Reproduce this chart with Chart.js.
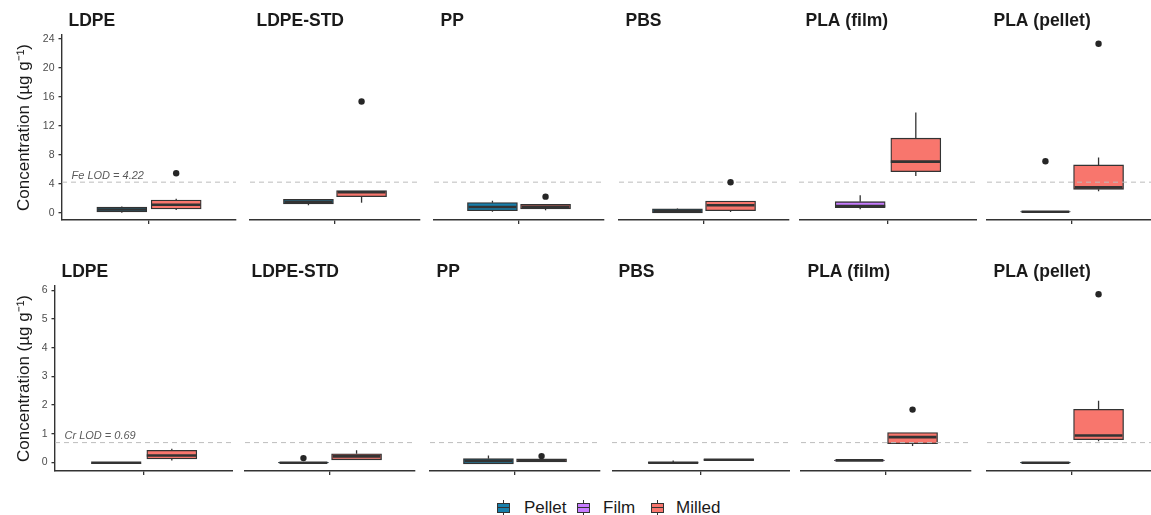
<!DOCTYPE html>
<html lang="en">
<head>
<meta charset="UTF-8">
<title>Fe and Cr concentration by material and form</title>
<script src="https://cdn.jsdelivr.net/npm/chart.js"></script>
<style>
  body { margin: 0; background: #fff; font-family: 'Liberation Sans', Arial, sans-serif; }
  #wrap { position: relative; width: 1151px; height: 515px; overflow: hidden; }
  #wrap canvas { position: absolute; }
  .key { position: absolute; top: 500px; width: 13px; height: 16px; }
  .key i { position: absolute; display: block; }
  .key .wh { left: 6px; top: 0; width: 1.3px; height: 16px; background: #333; }
  .key .bx { left: 0; top: 3px; width: 11px; height: 8px; border: 1px solid #333; }
  .key .md { left: 1px; top: 6.5px; width: 11px; height: 1.6px; background: #333; }
  .lab { position: absolute; top: 498px; font-size: 17px; line-height: 20px; color: #1a1a1a; }
</style>
</head>
<body>
<div id="wrap">
  <div class="key" style="left:497px"><i class="wh"></i><i class="bx" style="background:#177fab"></i><i class="md"></i></div>
  <span class="lab" style="left:524px">Pellet</span>
  <div class="key" style="left:577px"><i class="wh"></i><i class="bx" style="background:#c77cff"></i><i class="md"></i></div>
  <span class="lab" style="left:603px">Film</span>
  <div class="key" style="left:651px"><i class="wh"></i><i class="bx" style="background:#f8766d"></i><i class="md"></i></div>
  <span class="lab" style="left:676px">Milled</span>
</div>

<script>
const materials = ['LDPE', 'LDPE-STD', 'PP', 'PBS', 'PLA (film)', 'PLA (pellet)'];
const firstForm = ['Pellet', 'Pellet', 'Pellet', 'Pellet', 'Film', 'Pellet'];
const formColors = { Pellet: '#177fab', Film: '#c77cff', Milled: '#f8766d' };

// Fe, ug/g: [lower whisker, Q1, median, Q3, upper whisker]
const feFirst = [
    [0.00, 0.12, 0.45, 0.78, 0.85],
    [1.02, 1.20, 1.50, 1.86, 1.88],
    [0.14, 0.28, 0.79, 1.39, 1.66],
    [-0.04, -0.02, 0.25, 0.55, 0.62],
    [0.47, 0.69, 0.93, 1.52, 2.41],
    [0.08, 0.10, 0.13, 0.16, 0.18]
];
const feMilled = [
    [0.37, 0.51, 1.10, 1.76, 1.94],
    [1.38, 2.22, 2.82, 3.05, 3.05],
    [0.33, 0.51, 0.83, 1.16, 1.16],
    [0.10, 0.28, 1.02, 1.62, 1.62],
    [5.08, 5.68, 7.06, 10.30, 13.85],
    [2.96, 3.23, 3.50, 6.60, 7.62]
];
const feOutFirst = [[], [], [], [], [], [7.1]];
const feOutMilled = [[5.45], [15.37], [2.22], [4.2], [], [23.36]];
const feTicks = [0, 4, 8, 12, 16, 20, 24];
const feLod = 4.22;

// Cr, ug/g
const crFirst = [
    [-0.03, -0.02, -0.01, 0.00, 0.01],
    [-0.03, -0.02, -0.01, 0.00, 0.01],
    [-0.05, -0.05, 0.05, 0.13, 0.24],
    [-0.03, -0.02, -0.01, 0.00, 0.07],
    [0.05, 0.06, 0.07, 0.08, 0.09],
    [-0.03, -0.02, -0.01, 0.00, 0.01]
];
const crMilled = [
    [0.07, 0.12, 0.24, 0.42, 0.48],
    [0.08, 0.09, 0.21, 0.30, 0.42],
    [0.02, 0.02, 0.07, 0.12, 0.12],
    [0.06, 0.07, 0.09, 0.11, 0.11],
    [0.57, 0.65, 0.88, 1.04, 1.04],
    [0.74, 0.79, 0.94, 1.85, 2.15]
];
const crOutFirst = [[], [0.15], [], [], [], []];
const crOutMilled = [[], [], [0.22], [], [1.84], [5.86]];
const crTicks = [0, 1, 2, 3, 4, 5, 6];
const crLod = 0.69;

const FONT = "'Liberation Sans', Arial, sans-serif";
Chart.defaults.font.family = FONT;

// facet layout (pixels)
const panelW = 178;
const axisH = 12;
const dodge = 0.1875;     // box offset from panel centre, in x units
const boxWidth = 0.3375;  // in x units (panel spans 1.2 units)

const rows = [
    { el: 'Fe', first: feFirst, milled: feMilled, outFirst: feOutFirst, outMilled: feOutMilled,
      ticks: feTicks, lod: feLod, yMin: -1.01, yMax: 24.56,
      top: 0, padTop: 35, plotBottom: 220, axisW: 62, pitch: 184.2 },
    { el: 'Cr', first: crFirst, milled: crMilled, outFirst: crOutFirst, outMilled: crOutMilled,
      ticks: crTicks, lod: crLod, yMin: -0.30, yMax: 6.15,
      top: 250, padTop: 36, plotBottom: 471, axisW: 55, pitch: 185.6 }
];

const panelInfo = new Map();

// whiskers, medians, LOD line and strip label for each facet
const facetBox = {
    id: 'facetBox',
    beforeDatasetsDraw(chart) {
        const info = panelInfo.get(chart.canvas);
        const { ctx, scales: { x, y } } = chart;
        ctx.save();
        ctx.strokeStyle = '#333';
        ctx.lineWidth = 1.3;
        info.boxes.forEach(b => {
            const px = x.getPixelForValue(b.x);
            ctx.beginPath();
            ctx.moveTo(px, y.getPixelForValue(b.stats[4]));
            ctx.lineTo(px, y.getPixelForValue(b.stats[3]));
            ctx.moveTo(px, y.getPixelForValue(b.stats[1]));
            ctx.lineTo(px, y.getPixelForValue(b.stats[0]));
            ctx.stroke();
        });
        ctx.restore();
    },
    afterDatasetDraw(chart, args) {
        if (args.meta.type !== 'bar') return;
        const info = panelInfo.get(chart.canvas);
        const { ctx, chartArea: area, scales: { x, y } } = chart;
        ctx.save();
        ctx.strokeStyle = '#333';
        ctx.lineWidth = 2.6;
        info.boxes.forEach(b => {
            const l = x.getPixelForValue(b.x - boxWidth / 2);
            const r = x.getPixelForValue(b.x + boxWidth / 2);
            const py = y.getPixelForValue(b.stats[2]);
            ctx.beginPath();
            ctx.moveTo(l, py);
            ctx.lineTo(r, py);
            ctx.stroke();
        });
        const ly = y.getPixelForValue(info.lod);
        ctx.setLineDash([5, 4]);
        ctx.strokeStyle = '#bdbdbd';
        ctx.lineWidth = 1;
        ctx.beginPath();
        ctx.moveTo(area.left, ly);
        ctx.lineTo(area.right, ly);
        ctx.stroke();
        ctx.setLineDash([]);
        if (info.lodLabel) {
            ctx.font = 'italic 11px ' + FONT;
            ctx.fillStyle = '#595959';
            ctx.textAlign = 'left';
            ctx.textBaseline = 'alphabetic';
            ctx.fillText(info.lodLabel, area.left + 9.5, ly - 3.5);
        }
        ctx.restore();
    },
    afterDraw(chart) {
        const info = panelInfo.get(chart.canvas);
        const { ctx, chartArea: area } = chart;
        ctx.save();
        ctx.font = 'bold 17.5px ' + FONT;
        ctx.fillStyle = '#1a1a1a';
        ctx.textAlign = 'left';
        ctx.textBaseline = 'middle';
        ctx.fillText(info.title, area.left + 6.5, area.top - 13.5);
        ctx.restore();
    }
};

const wrap = document.getElementById('wrap');

rows.forEach(row => {
    materials.forEach((name, i) => {
        const first = i === 0;
        const canvas = document.createElement('canvas');
        canvas.width = first ? row.axisW + panelW : panelW;
        canvas.height = row.plotBottom - row.top + axisH;
        canvas.style.left = (first ? 0 : Math.round(row.axisW + i * row.pitch)) + 'px';
        canvas.style.top = row.top + 'px';
        wrap.appendChild(canvas);

        const boxes = [
            { x: -dodge, stats: row.first[i], form: firstForm[i] },
            { x: dodge, stats: row.milled[i], form: 'Milled' }
        ];
        panelInfo.set(canvas, {
            title: name,
            lod: row.lod,
            lodLabel: first ? row.el + ' LOD = ' + row.lod : '',
            boxes: boxes
        });

        const outliers = row.outFirst[i].map(v => ({ x: -dodge, y: v }))
            .concat(row.outMilled[i].map(v => ({ x: dodge, y: v })));

        new Chart(canvas, {
            type: 'bar',
            data: {
                datasets: [{
                    type: 'bar',
                    label: row.el + ' ' + name,
                    order: 2,
                    data: boxes.map(b => ({ x: b.x, y: [b.stats[1], b.stats[3]] })),
                    backgroundColor: boxes.map(b => formColors[b.form]),
                    borderColor: '#333',
                    borderWidth: 1.3,
                    borderSkipped: false,
                    barThickness: 50
                }, {
                    type: 'line',
                    label: 'outliers',
                    order: 1,
                    showLine: false,
                    data: outliers,
                    pointRadius: 3.2,
                    pointBackgroundColor: '#262626',
                    pointBorderWidth: 0
                }]
            },
            plugins: [facetBox],
            options: {
                responsive: false,
                animation: false,
                devicePixelRatio: 1,
                layout: { padding: { top: row.padTop, left: 0, right: 0, bottom: 0 } },
                plugins: {
                    legend: { display: false },
                    tooltip: { enabled: false }
                },
                scales: {
                    x: {
                        type: 'linear',
                        min: -0.6,
                        max: 0.6,
                        offset: false,
                        afterBuildTicks: s => { s.ticks = [{ value: 0 }]; },
                        afterFit: s => { s.height = axisH; },
                        ticks: { callback: () => '' },
                        grid: { display: true, drawOnChartArea: false, drawTicks: true, tickLength: 4, color: '#333', lineWidth: 1.3, offset: false },
                        border: { display: true, color: '#333', width: 1.4 }
                    },
                    y: {
                        display: first,
                        min: row.yMin,
                        max: row.yMax,
                        afterBuildTicks: s => { s.ticks = row.ticks.map(v => ({ value: v })); },
                        afterFit: s => { s.width = first ? row.axisW : 0; },
                        ticks: { color: '#4d4d4d', font: { size: 10.5 }, padding: 4 },
                        grid: { drawOnChartArea: false, tickLength: 3.5, color: '#333', lineWidth: 1.3 },
                        border: { color: '#333', width: 1.4 },
                        title: {
                            display: true,
                            text: 'Concentration (µg g⁻¹)',
                            color: '#1a1a1a',
                            font: { size: 17 },
                            padding: { top: 14, bottom: 0 }
                        }
                    }
                }
            }
        });
    });
});
</script>
</body>
</html>
